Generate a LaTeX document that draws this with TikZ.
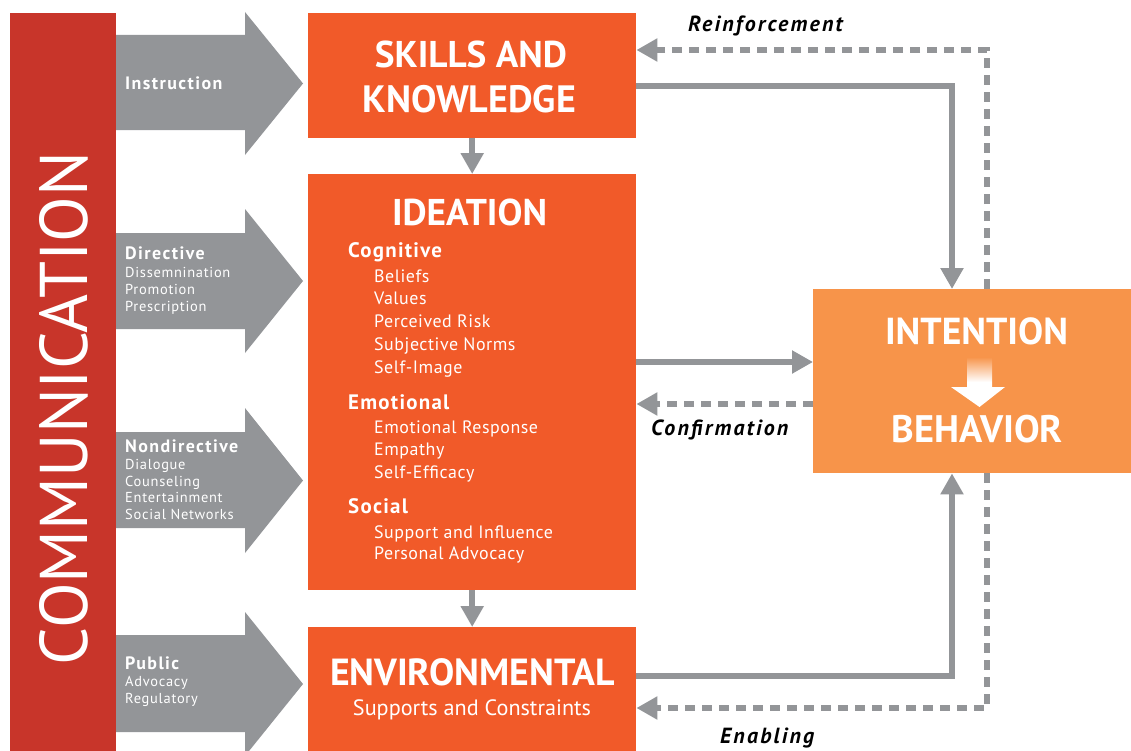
\documentclass[tikz,border=0pt]{standalone}
\usepackage{fontspec}
\setmainfont{PT Sans}
\usetikzlibrary{arrows.meta,calc}
\definecolor{commred}{HTML}{C8352A}
\definecolor{boxor}{HTML}{F15A29}
\definecolor{intor}{HTML}{F7944A}
\definecolor{arrgrey}{HTML}{939598}
\newcommand{\fs}[2]{\fontsize{#1}{#1}\selectfont\addfontfeature{LetterSpace=#2}}
\begin{document}
\begin{tikzpicture}[x=1bp,y=-1bp,
  obox/.style={fill=boxor, inner sep=0, minimum width=328bp, anchor=north west},
  blk/.style={fill=arrgrey},
  conn/.style={draw=arrgrey, line width=6.5bp, -{Triangle[width=22bp,length=21bp]}},
  fback/.style={conn, dash pattern=on 10bp off 7bp},
  wt/.style={text=white, inner sep=0, anchor=base west},
  wtc/.style={text=white, inner sep=0, anchor=base},
  armain/.style={wt, font=\bfseries\fs{18}{8}},
  arsub/.style={wt, font=\fs{14.5}{5}},
  idhead/.style={wt, font=\bfseries\fs{21}{6}},
  iditem/.style={wt, font=\fs{18}{3}},
  lab/.style={inner sep=0, anchor=base west, font=\bfseries\itshape\fs{22}{10}},
]
\useasboundingbox (0,0) rectangle (1131,751);
\fill[white] (0,0) rectangle (1131,751);

% communication bar
\node[fill=commred, inner sep=0, minimum width=106bp, minimum height=738bp, anchor=north west] (comm) at (10,13) {};
\node[rotate=90, text=white, inner sep=0] (commtxt) at (64,408.5) {\resizebox{513bp}{48bp}{COMMUNICATION}};

% block arrows
\fill[blk] (116,35) -- (245,35) -- (245,12) -- (303,83.5) -- (245,155) -- (245,130) -- (116,130) -- cycle;
\fill[blk] (116,233) -- (245,233) -- (245,209) -- (303,281) -- (245,353) -- (245,329) -- (116,329) -- cycle;
\fill[blk] (116,432) -- (245,432) -- (245,408) -- (303,480.5) -- (245,553) -- (245,528) -- (116,528) -- cycle;
\fill[blk] (116,635) -- (245,635) -- (245,612) -- (303,684) -- (245,756) -- (245,732) -- (116,732) -- cycle;

\node[armain] (instr) at (125,90) {Instruction};
\node[armain] (dir) at (125,259) {Directive};
\node[arsub] (dir1) at (125,277) {Dissemnination};
\node[arsub] (dir2) at (125,294) {Promotion};
\node[arsub] (dir3) at (125,311) {Prescription};
\node[armain] (nond) at (125,452) {Nondirective};
\node[arsub] (nd1) at (125,469) {Dialogue};
\node[arsub] (nd2) at (125,486) {Counseling};
\node[arsub] (nd3) at (125,502) {Entertainment};
\node[arsub] (nd4) at (125,519) {Social Networks};
\node[armain] (pub) at (125,669) {Public};
\node[arsub] (pb1) at (125,686) {Advocacy};
\node[arsub] (pb2) at (125,703) {Regulatory};

% boxes
\node[obox, minimum height=125bp] (sk) at (308,13) {};
\node[obox, minimum height=416bp] (id) at (308,174) {};
\node[obox, minimum height=130bp] (env) at (308,627) {};
\node[fill=intor, inner sep=0, minimum width=318bp, minimum height=184bp, anchor=north west] (int) at (813,289) {};

% titles
\node[wtc] (skt1) at (471,68) {\resizebox{192bp}{!}{\bfseries SKILLS AND}};
\node[wtc] (skt2) at (469.5,113) {\resizebox{213bp}{!}{\bfseries KNOWLEDGE}};
\node[wtc] (idt) at (469.5,225) {\resizebox{155bp}{!}{\bfseries IDEATION}};
\node[wtc] (envt) at (472.5,685) {\resizebox{285bp}{!}{\bfseries ENVIRONMENTAL}};
\node[wtc] (envs) at (472,715) {\resizebox{238bp}{!}{Supports and Constraints}};
\node[wtc] (intt) at (976.5,344) {\resizebox{183bp}{!}{\bfseries INTENTION}};
\node[wtc] (beht) at (977.5,442) {\resizebox{171bp}{!}{\bfseries BEHAVIOR}};
\shade[top color=intor, bottom color=white, middle color=white]
  (967,357) -- (992,357) -- (992,387) -- (1005,387) -- (979.5,407) -- (951,387) -- (967,387) -- cycle;

% ideation contents
\node[idhead] (cog) at (348,257) {Cognitive};
\node[iditem] (c1) at (374,282) {Beliefs};
\node[iditem] (c2) at (374,304) {Values};
\node[iditem] (c3) at (374,327) {Perceived Risk};
\node[iditem] (c4) at (374,350) {Subjective Norms};
\node[iditem] (c5) at (374,373) {Self-Image};
\node[idhead] (emo) at (348,409) {Emotional};
\node[iditem] (e1) at (374,433) {Emotional Response};
\node[iditem] (e2) at (374,455) {Empathy};
\node[iditem] (e3) at (374,478) {Self-Efficacy};
\node[idhead] (soc) at (348,513) {Social};
\node[iditem] (s1) at (374,538) {Support and Influence};
\node[iditem] (s2) at (374,559) {Personal Advocacy};

% helper coordinates
\coordinate (y50) at (0,50);
\coordinate (y86) at (0,86);
\coordinate (y362) at (0,362);
\coordinate (y404) at (0,404);
\coordinate (y676) at (0,676);
\coordinate (y708) at (0,708);
\coordinate (xa) at (952,0);
\coordinate (xb) at (987,0);

% connectors
\draw[conn] (sk.south) -- (id.north);
\draw[conn] (id.south) -- (env.north);
\draw[conn] (sk.east |- y86) -| (int.north -| xa);
\draw[conn] (id.east |- y362) -- (int.west |- y362);
\draw[conn] (env.east |- y676) -| (int.south -| xa);
\draw[fback] (int.north -| xb) |- (sk.east |- y50);
\draw[fback] (int.west |- y404) -- (id.east |- y404);
\draw[fback] (int.south -| xb) |- (env.east |- y708);

% labels
\node[lab] (reinf) at (688,32) {Reinforcement};
\node[lab] (conf) at (651,435) {Confirmation};
\node[lab] (enab) at (720,743) {Enabling};
\end{tikzpicture}
\end{document}
